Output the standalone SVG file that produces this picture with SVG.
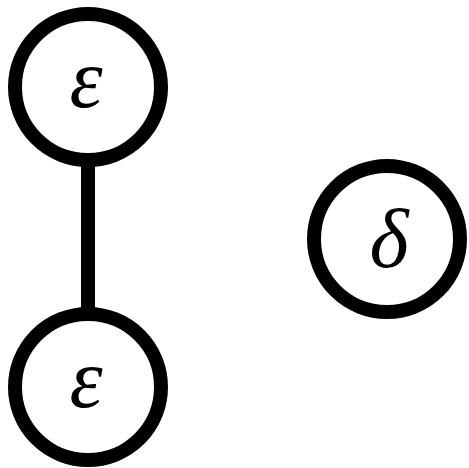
<svg xmlns="http://www.w3.org/2000/svg" width="469" height="468" viewBox="0 0 469 468">
<style>
.node circle{fill:#fff;stroke:#000;stroke-width:14}
.node text{font-family:"Liberation Serif","DejaVu Serif",serif;font-style:italic;font-size:84px;text-anchor:middle;fill:#000}
.edge{stroke:#000;stroke-width:14;fill:none}
</style>
<rect width="469" height="468" fill="#fff"/>
<g id="connectors">
<line class="edge" x1="88" y1="160" x2="88" y2="314"/>
</g>
<g id="n1" class="node">
<circle cx="88" cy="87" r="73"/>
<text x="86" y="107">ε</text>
</g>
<g id="n2" class="node">
<circle cx="88" cy="387" r="73"/>
<text x="86" y="407">ε</text>
</g>
<g id="n3" class="node">
<circle cx="387" cy="239" r="73"/>
<text x="389" y="267">δ</text>
</g>
</svg>
